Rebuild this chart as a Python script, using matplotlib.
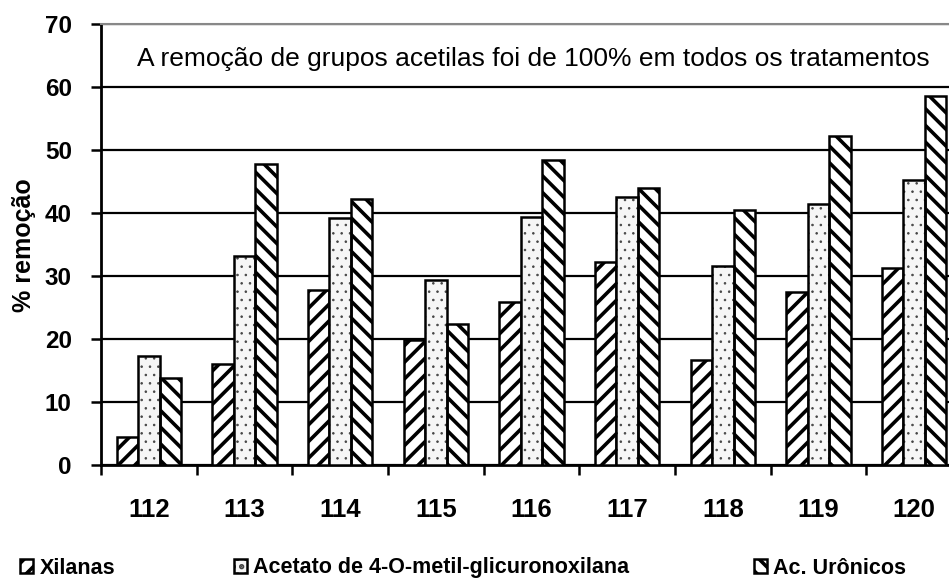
import matplotlib
matplotlib.use("Agg")
import matplotlib.pyplot as plt
from matplotlib import font_manager as fm
import numpy as np

plt.rcParams["font.family"] = ["Liberation Sans", "DejaVu Sans"]
plt.rcParams["hatch.linewidth"] = 2.6

tratamentos = ["112", "113", "114", "115", "116", "117", "118", "119", "120"]
xilanas = [4.4, 16.0, 27.7, 19.8, 25.9, 32.2, 16.7, 27.4, 31.3]
acetato = [17.3, 33.2, 39.2, 29.4, 39.4, 42.6, 31.6, 41.4, 45.2]
uronicos = [13.8, 47.8, 42.3, 22.4, 48.4, 44.0, 40.4, 52.2, 58.6]
series_labels = ["Xilanas", "Acetato de 4-O-metil-glicuronoxilana", "Ac. Urônicos"]
nota = "A remoção de grupos acetilas foi de 100% em todos os tratamentos"

# legend text in the original is a condensed bold face
try:
    fm.findfont("Liberation Sans Narrow", fallback_to_default=False)
    leg_font = {"family": ["Liberation Sans Narrow", "Liberation Sans"],
                "size": 18, "weight": "bold"}
except ValueError:
    leg_font = {"family": ["Liberation Sans"], "size": 15.5, "weight": "bold"}

fig = plt.figure(figsize=(9.49, 5.86), dpi=100)
# axes runs a bit past the right edge, like the original crop
ax = fig.add_axes([101 / 949, 121 / 586, 861 / 949, 441 / 586])

x = np.arange(len(tratamentos))
w = 0.223

b1 = ax.bar(x - w, xilanas, w, facecolor="white", edgecolor="black",
            linewidth=1.8, hatch="//", zorder=3)
# dotted fill first (grey dots), then a plain black outline on top
with plt.rc_context({"hatch.linewidth": 0.6}):
    b2 = ax.bar(x, acetato, w, facecolor="#f6f6f6", edgecolor="#444444",
                linewidth=0, hatch="..", zorder=3)
b2_edge = ax.bar(x, acetato, w, facecolor="none", edgecolor="black",
                 linewidth=1.8, zorder=3.1)
b3 = ax.bar(x + w, uronicos, w, facecolor="white", edgecolor="black",
            linewidth=1.8, hatch="\\\\", zorder=3)

ax.set_xlim(-0.5, len(tratamentos) - 0.5)
ax.set_ylim(0, 70)
ax.set_yticks(range(0, 71, 10))
ax.yaxis.grid(True, color="black", linewidth=1.6, zorder=0)
ax.set_axisbelow(True)

# tick marks between groups, labels at group centres
ax.set_xticks(np.arange(-0.5, len(tratamentos), 1.0))
ax.set_xticklabels([])
ax.set_xticks(x, minor=True)
ax.set_xticklabels(tratamentos, minor=True, fontsize=18.5, fontweight="bold")
ax.tick_params(axis="x", which="major", length=7, width=1.8, direction="out")
ax.tick_params(axis="x", which="minor", length=0, pad=24)
ax.tick_params(axis="y", length=7, width=1.8, pad=14, labelsize=17.5)
for t in ax.get_yticklabels():
    t.set_fontweight("bold")

ax.spines["left"].set_linewidth(2)
ax.spines["bottom"].set_linewidth(2)
ax.spines["right"].set_visible(False)
ax.spines["top"].set_color("#888888")
ax.spines["top"].set_linewidth(1.5)

fig.text(24 / 949, 1 - 245 / 586, "% remoção", rotation=90, fontsize=18,
         fontweight="bold", ha="center", va="center")

fig.text(137 / 949, 1 - 59 / 586, nota, fontsize=19, va="center", ha="left")

# one legend per entry so each sits where the original has it
handles = [b1, (b2, b2_edge), b3]
for handle, label, xpos in zip(handles, series_labels, [20, 234, 754]):
    fig.legend([handle], [label], loc="center left",
               bbox_to_anchor=(xpos / 949, 1 - 568 / 586),
               frameon=False, prop=leg_font, handlelength=0.6,
               handleheight=0.65, handletextpad=0.3,
               borderaxespad=0, borderpad=0)

fig.savefig("out.png", dpi=100)
